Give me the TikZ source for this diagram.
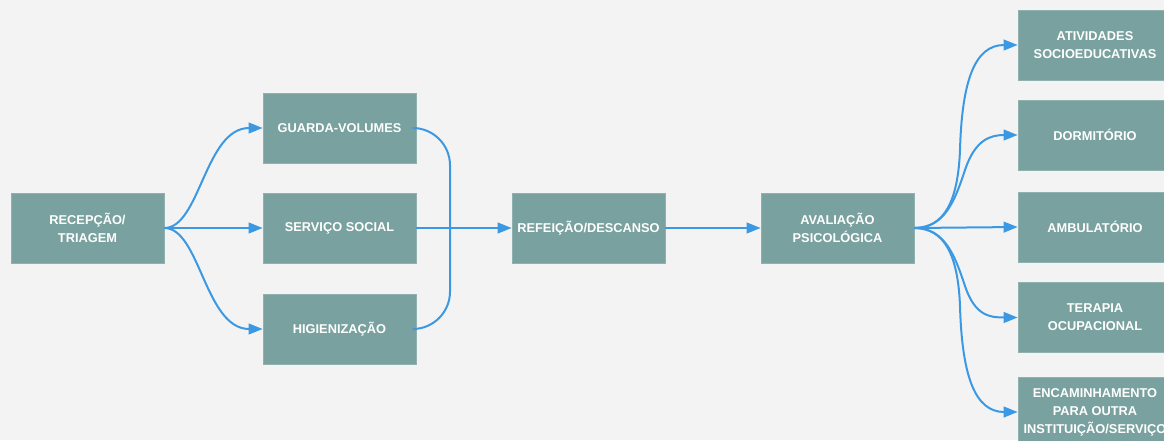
\documentclass[tikz,border=0pt]{standalone}
\usepackage{fontspec}
\setmainfont{Liberation Sans}
\usetikzlibrary{arrows.meta}
\definecolor{bgc}{HTML}{F3F3F3}
\definecolor{boxc}{HTML}{78A19F}
\definecolor{boxe}{HTML}{8FB2B0}
\definecolor{arrc}{HTML}{3B99E4}
\begin{document}
\begin{tikzpicture}[x=0.75pt,y=-0.75pt,
  box/.style={rectangle,fill=boxc,draw=boxe,line width=0.5pt,
    minimum width=114.75pt,minimum height=52.5pt,inner sep=0pt,
    align=center,text=white,font=\fontsize{9.6}{13.5}\selectfont\bfseries},
  wbox/.style={box,minimum width=115.5pt},
  conn/.style={draw=arrc,line width=1.5pt},
  arr/.style={conn,-{Triangle[length=10.5pt,width=8pt]}}]
\useasboundingbox[fill=bgc] (0,0) rectangle (1164,440);
\begin{scope}
\clip (0,0) rectangle (1164,440);
\node[box] (rec) at (87.5,228) {RECEPÇÃO/\\TRIAGEM};
\node[box] (gua) at (339.5,128) {GUARDA-VOLUMES};
\node[box] (ser) at (339.5,228) {SERVIÇO SOCIAL};
\node[box] (hig) at (339.5,329) {HIGIENIZAÇÃO};
\node[box] (ref) at (588.5,228) {REFEIÇÃO/DESCANSO};
\node[box] (ava) at (837.5,228) {AVALIAÇÃO\\PSICOLÓGICA};
\node[wbox] (t1) at (1095,45) {ATIVIDADES\\SOCIOEDUCATIVAS};
\node[wbox] (t2) at (1095,135) {DORMITÓRIO};
\node[wbox] (t3) at (1095,227) {AMBULATÓRIO};
\node[wbox] (t4) at (1095,317.5) {TERAPIA\\OCUPACIONAL};
\node[wbox] (t5) at (1095,412) {ENCAMINHAMENTO\\PARA OUTRA\\INSTITUIÇÃO/SERVIÇO};
\coordinate (m) at (450,228);
\end{scope}
% left fan
\draw[arr] (rec.east) .. controls (200,228) and (205,128) .. (gua.west);
\draw[arr] (rec.east) -- (ser.west);
\draw[arr] (rec.east) .. controls (200,228) and (205,329) .. (hig.west);
% merge
\draw[conn,rounded corners=28pt] (gua.east) -| (m);
\draw[conn,rounded corners=28pt] (hig.east) -| (m);
\draw[arr] (ser.east) -- (ref.west);
\draw[arr] (ref.east) -- (ava.west);
% right fan
\draw[arr] (ava.east) .. controls (945,228) and (958,200) .. (960,150)
   .. controls (962,80) and (975,45) .. (t1.west);
\draw[arr] (ava.east) .. controls (945,228) and (955,200) .. (965,170)
   .. controls (975,140) and (990,135) .. (t2.west);
\draw[arr] (ava.east) -- (t3.west);
\draw[arr] (ava.east) .. controls (945,228) and (955,256) .. (965,286)
   .. controls (975,316) and (990,317.5) .. (t4.west);
\draw[arr] (ava.east) .. controls (945,228) and (958,256) .. (960,306)
   .. controls (962,376) and (975,412) .. (t5.west);
\end{tikzpicture}
\end{document}
